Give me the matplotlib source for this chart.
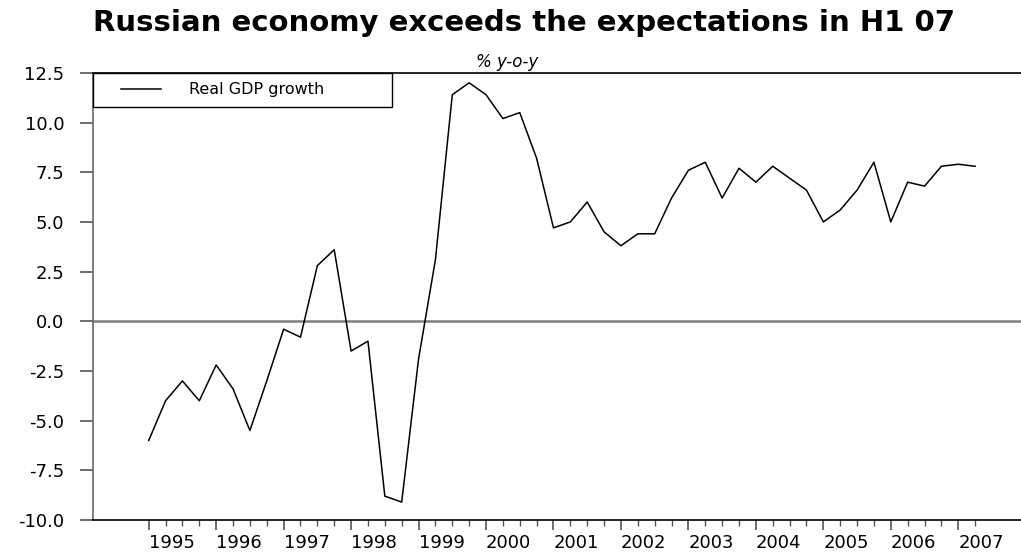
import numpy as np
import matplotlib
matplotlib.use('Agg')
import matplotlib.pyplot as plt
from matplotlib.ticker import FixedLocator, FormatStrFormatter
from matplotlib.legend_handler import HandlerLine2D

# quarterly real GDP growth, % y-o-y, 1995Q1 .. 2007Q2
gdp_growth = [
    -6.0, -4.0, -3.0, -4.0,    # 1995
    -2.2, -3.4, -5.5, -3.0,    # 1996
    -0.4, -0.8, 2.8, 3.6,      # 1997
    -1.5, -1.0, -8.8, -9.1,    # 1998
    -1.9, 3.1, 11.4, 12.0,     # 1999
    11.4, 10.2, 10.5, 8.2,     # 2000
    4.7, 5.0, 6.0, 4.5,        # 2001
    3.8, 4.4, 4.4, 6.2,        # 2002
    7.6, 8.0, 6.2, 7.7,        # 2003
    7.0, 7.8, 7.2, 6.6,        # 2004
    5.0, 5.6, 6.6, 8.0,        # 2005
    5.0, 7.0, 6.8, 7.8,        # 2006
    7.9, 7.8,                  # 2007
]
years = list(range(1995, 2008))
y_ticks = [-10.0, -7.5, -5.0, -2.5, 0.0, 2.5, 5.0, 7.5, 10.0, 12.5]

quarters = 1995 + np.arange(len(gdp_growth)) / 4.0

plt.rcParams['font.family'] = ['DejaVu Sans']

fig = plt.figure(figsize=(10.21, 5.52), dpi=100)
ax = fig.add_axes([0.0908, 0.058, 0.9092, 0.81])

line, = ax.plot(quarters, gdp_growth, color='black', lw=1.1,
                label='Real GDP growth')
ax.axhline(0, color='#7f7f7f', lw=1.8, zorder=1)

ax.set_xlim(1994.17, 2007.93)
ax.set_ylim(-10, 12.5)

ax.yaxis.set_major_locator(FixedLocator(y_ticks))
ax.yaxis.set_major_formatter(FormatStrFormatter('%.1f'))
ax.tick_params(axis='y', direction='out', length=9.5, width=1.2,
               color='#555555', labelsize=13, pad=11)

# year labels sit just right of the year tick
ax.set_xticks(years)
ax.set_xticklabels([str(y) for y in years], ha='left')
ax.set_xticks(quarters, minor=True)
ax.tick_params(axis='x', which='major', direction='out', length=7,
               width=1.2, color='#555555', labelsize=13, pad=3)
ax.tick_params(axis='x', which='minor', direction='out', length=4,
               width=1.0, color='#555555')

ax.spines['right'].set_visible(False)
ax.spines['left'].set_color('#666666')
ax.spines['left'].set_linewidth(1.2)
ax.spines['top'].set_linewidth(1.2)
ax.spines['bottom'].set_linewidth(1.2)

leg = ax.legend(loc='upper left', bbox_to_anchor=(0, 0.926, 0.3224, 0.074),
                mode='expand', borderaxespad=0, fancybox=False,
                edgecolor='black', framealpha=1, fontsize=11.5,
                handlelength=3.7, handletextpad=1.7, borderpad=0.6,
                handler_map={line: HandlerLine2D(xpad=1.2)})
leg.get_frame().set_linewidth(1.0)

fig.text(0.513, 0.958, 'Russian economy exceeds the expectations in H1 07',
         ha='center', va='center', fontsize=21, fontweight='bold')
fig.text(0.497, 0.888, '% y-o-y', ha='center', va='center',
         fontsize=12, style='italic')

fig.savefig('out.png', dpi=100)
